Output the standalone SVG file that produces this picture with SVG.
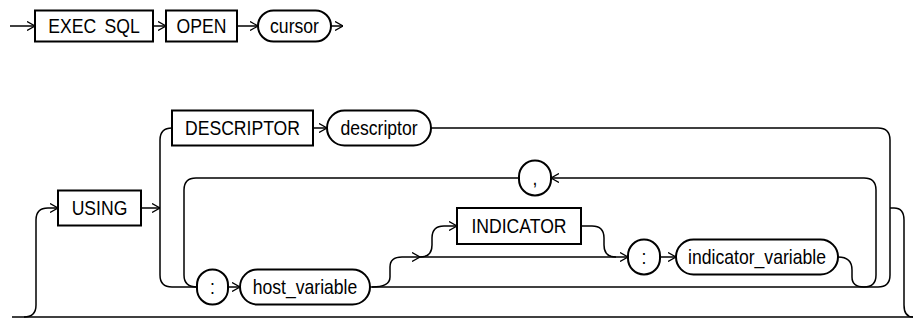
<svg xmlns="http://www.w3.org/2000/svg" width="913" height="320" viewBox="0 0 913 320">
<style>
.box{fill:#fff;stroke:#000;stroke-width:2}
.oval{fill:#fff;stroke:#000;stroke-width:2}
.ln{fill:none;stroke:#000;stroke-width:1.5}
.ar{fill:none;stroke:#000;stroke-width:1.5;marker-end:url(#ah)}
text{font-family:"Liberation Sans",Arial,sans-serif;font-size:20px;fill:#000;text-anchor:middle}
</style>
<defs>
<marker id="ah" viewBox="0 0 8 10" refX="8" refY="5" markerWidth="8" markerHeight="10" markerUnits="userSpaceOnUse" orient="auto">
<path d="M0,0.5 L8,5 L0,9.5" fill="none" stroke="#000" stroke-width="1.3"/>
</marker>
</defs>
<g id="connectors">
<path class="ar" d="M10,26 H35"/>
<path class="ar" d="M153,26 H166"/>
<path class="ar" d="M237,26 H258"/>
<path class="ar" d="M331,26 H343"/>
<path class="ln" d="M12,317 H913"/>
<path class="ar" d="M24,317 Q36,317 36,305 V220 Q36,208 48,208 H58"/>
<path class="ar" d="M141,208 H160"/>
<path class="ln" d="M172,128 Q160,128 160,140 V275 Q160,287 172,287 H197"/>
<path class="ar" d="M313,128 H327"/>
<path class="ln" d="M431,128 H878 Q890,128 890,140 V275 Q890,287 878,287"/>
<path class="ln" d="M890,208 H894 Q904,208 904,220 V305 Q904,317 913,317"/>
<path class="ln" d="M197,287 Q184,287 184,275 V190 Q184,178 196,178 H519"/>
<path class="ar" d="M864,178 H551"/>
<path class="ln" d="M864,178 Q876,178 876,190 V275 Q876,287 864,287"/>
<path class="ar" d="M228,287 H240"/>
<path class="ln" d="M370,287 H878"/>
<path class="ar" d="M372,287 Q390,287 390,277 V267 Q390,257 402,257 H420"/>
<path class="ar" d="M420,257 H628"/>
<path class="ar" d="M420,257 Q432,257 432,245 V238 Q432,226 444,226 H457"/>
<path class="ln" d="M581,226 H592 Q604,226 604,238 V245 Q604,257 616,257"/>
<path class="ar" d="M660,257 H676"/>
<path class="ln" d="M838,257 Q852,257 852,270 V277 Q852,287 864,287"/>
</g>
<g id="exec-sql"><rect class="box" x="35" y="10.5" width="118" height="31"/><text transform="translate(94,33.2) scale(0.88,1)" word-spacing="4">EXEC SQL</text></g>
<g id="open"><rect class="box" x="166" y="10.5" width="71" height="31"/><text transform="translate(201.5,33.2) scale(0.88,1)">OPEN</text></g>
<g id="cursor"><rect class="oval" x="258" y="10.5" width="73" height="31" rx="15.5"/><text transform="translate(294.5,33.2) scale(0.88,1)">cursor</text></g>
<g id="using"><rect class="box" x="58" y="190.5" width="83" height="35"/><text transform="translate(99.5,215.2) scale(0.88,1)">USING</text></g>
<g id="descriptor-kw"><rect class="box" x="172" y="110.5" width="141" height="35"/><text transform="translate(242.5,135.2) scale(0.88,1)">DESCRIPTOR</text></g>
<g id="descriptor"><rect class="oval" x="327" y="110.5" width="104" height="35" rx="17.5"/><text transform="translate(379,135.2) scale(0.88,1)">descriptor</text></g>
<g id="comma"><rect class="oval" x="519" y="160.5" width="32" height="35" rx="16"/><text transform="translate(535,185.2) scale(0.88,1)">,</text></g>
<g id="colon1"><rect class="oval" x="197" y="269.5" width="31" height="35" rx="15.5"/><text transform="translate(212.5,294) scale(0.88,1)">:</text></g>
<g id="host-variable"><rect class="oval" x="240" y="269.5" width="130" height="35" rx="17.5"/><text transform="translate(305,294.2) scale(0.88,1)">host_variable</text></g>
<g id="indicator-kw"><rect class="box" x="457" y="208" width="124" height="36"/><text transform="translate(519,233.2) scale(0.88,1)">INDICATOR</text></g>
<g id="colon2"><rect class="oval" x="628" y="239.5" width="32" height="35" rx="16"/><text transform="translate(644,264) scale(0.88,1)">:</text></g>
<g id="indicator-variable"><rect class="oval" x="676" y="239.5" width="162" height="35" rx="17.5"/><text transform="translate(757,264.2) scale(0.88,1)">indicator_variable</text></g>
</svg>
